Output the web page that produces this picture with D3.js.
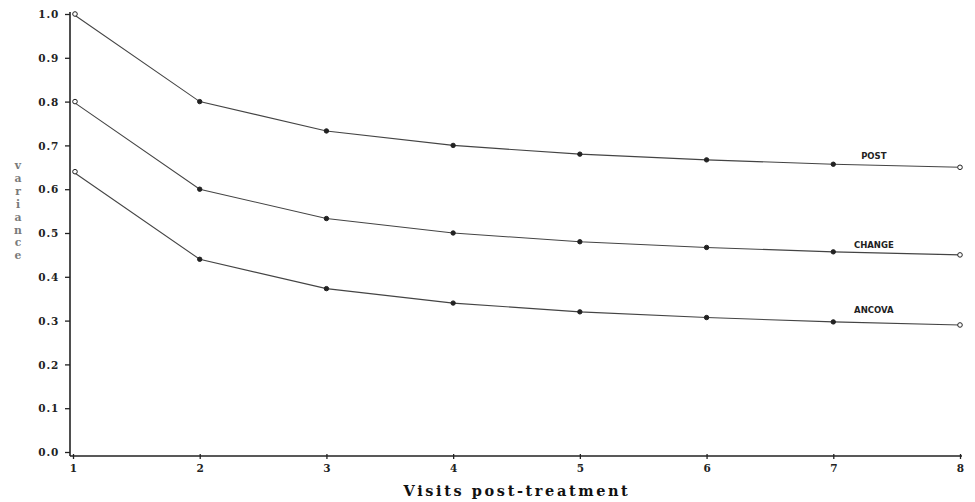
<!DOCTYPE html>
<html>
<head>
<meta charset="utf-8">
<script src="https://cdn.jsdelivr.net/npm/d3@7"></script>
<style>
  html, body { margin: 0; padding: 0; background: #fff; }
  svg { display: block; }
</style>
</head>
<body>
<svg id="chart" width="975" height="502"></svg>
<script>
// Visits after treatment
const visits = [1, 2, 3, 4, 5, 6, 7, 8];
// Variance of each estimator by number of post-treatment visits
const postVar   = [1.000, 0.800, 0.733, 0.700, 0.680, 0.667, 0.657, 0.650];
const changeVar = [0.800, 0.600, 0.533, 0.500, 0.480, 0.467, 0.457, 0.450];
const ancovaVar = [0.640, 0.440, 0.373, 0.340, 0.320, 0.307, 0.297, 0.290];
const seriesNames = ["POST", "CHANGE", "ANCOVA"];
const yTicks = [0.0, 0.1, 0.2, 0.3, 0.4, 0.5, 0.6, 0.7, 0.8, 0.9, 1.0];

const series = [postVar, changeVar, ancovaVar].map((vals, i) => ({
  name: seriesNames[i],
  values: vals.map((v, j) => ({ x: visits[j], y: v }))
}));

const svg = d3.select("#chart");
const x = d3.scaleLinear().domain([1, 8]).range([73, 960]);
const y = d3.scaleLinear().domain([0, 1]).range([452, 14]);

const axisColor = "#222";
const lineColor = "#444";
const tickFont = "'DejaVu Serif', serif";

// y axis
const yAxis = svg.append("g")
  .attr("transform", "translate(70,0)")
  .call(d3.axisLeft(y).tickValues(yTicks).tickFormat(d3.format(".1f")).tickSize(5).tickPadding(6));
yAxis.select(".domain").attr("stroke", axisColor).attr("stroke-width", 1.6)
  .attr("d", `M0,${y(1) - 2}V${456}`);
yAxis.selectAll(".tick line").attr("stroke", axisColor).attr("stroke-width", 1.3);
yAxis.selectAll(".tick text")
  .attr("fill", "#222")
  .style("font-family", tickFont)
  .style("font-weight", "bold")
  .style("font-size", "10.5px")
  .style("letter-spacing", "0.8px")
  .attr("dy", "0.35em");

// x axis
const xAxis = svg.append("g")
  .attr("transform", "translate(0,456)")
  .call(d3.axisBottom(x).tickValues(visits).tickFormat(d3.format("d")).tickSize(3).tickPadding(6));
xAxis.select(".domain").attr("stroke", axisColor).attr("stroke-width", 1.6)
  .attr("d", `M70,0H962`);
xAxis.selectAll(".tick line").attr("stroke", axisColor).attr("stroke-width", 1.3)
  .attr("y1", -2);
xAxis.selectAll(".tick text")
  .attr("fill", "#222")
  .style("font-family", tickFont)
  .style("font-weight", "bold")
  .style("font-size", "10.5px");

// axis titles
svg.append("text")
  .attr("x", 517).attr("y", 496)
  .attr("text-anchor", "middle")
  .style("font-family", tickFont)
  .style("font-weight", "bold")
  .style("font-size", "14.5px")
  .style("letter-spacing", "2.6px")
  .attr("fill", "#111")
  .text("Visits post-treatment");

// vertical y title, one letter per row
const yTitle = "variance".split("");
svg.append("g").selectAll("text")
  .data(yTitle)
  .join("text")
  .attr("x", 18)
  .attr("y", (d, i) => 169 + i * 12.9)
  .attr("text-anchor", "middle")
  .style("font-family", tickFont)
  .style("font-weight", "bold")
  .style("font-size", "10.8px")
  .attr("fill", "#7a7a7a")
  .text(d => d);

// lines
const line = d3.line().x(d => x(d.x)).y(d => y(d.y));
const g = svg.append("g");
series.forEach(s => {
  g.append("path")
    .datum(s.values)
    .attr("fill", "none")
    .attr("stroke", lineColor)
    .attr("stroke-width", 1.1)
    .attr("d", line);
  // markers: open at the ends, filled in between
  g.selectAll(null)
    .data(s.values)
    .join("circle")
    .attr("cx", d => x(d.x) + (d.x === 1 ? 2 : 0))
    .attr("cy", d => y(d.y))
    .attr("r", (d, i) => (i === 0 || i === s.values.length - 1) ? 2.3 : 2.2)
    .attr("fill", (d, i) => (i === 0 || i === s.values.length - 1) ? "#fff" : "#222")
    .attr("stroke", "#222")
    .attr("stroke-width", 1);
});

// series labels, set just above each line between visits 7 and 8
const labelGap = { POST: 6, CHANGE: 5, ANCOVA: 10 };
series.forEach(s => {
  const last = s.values[s.values.length - 1];
  const prev = s.values[s.values.length - 2];
  const xm = 7.32, ym = prev.y + (last.y - prev.y) * 0.3;
  svg.append("text")
    .attr("x", x(xm))
    .attr("y", y(ym) - labelGap[s.name])
    .attr("text-anchor", "middle")
    .style("font-family", "'DejaVu Sans', sans-serif")
    .style("font-weight", "bold")
    .style("font-size", "8.5px")
    .attr("fill", "#222")
    .text(s.name);
});
</script>
</body>
</html>
